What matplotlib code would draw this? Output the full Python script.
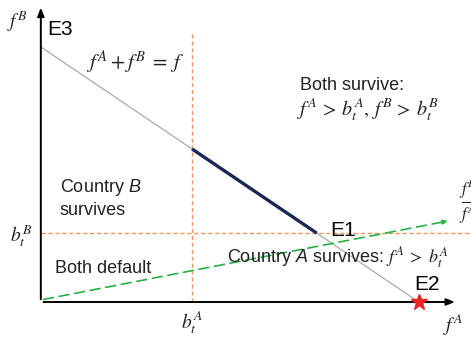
import numpy as np
import matplotlib.pyplot as plt

plt.rcParams['font.family'] = ['Liberation Sans', 'DejaVu Sans']
plt.rcParams['mathtext.fontset'] = 'custom'
plt.rcParams['mathtext.rm'] = 'STIXGeneral'
plt.rcParams['mathtext.it'] = 'STIXGeneral:italic'
plt.rcParams['mathtext.cal'] = 'Liberation Sans:italic'   # sans italic letters in labels

# model values (units of total funding f)
f_total = 1.0
b_A = 0.40
b_B = 0.27
ratio_start = [0.0, 0.008]
ratio_end = [1.085, 0.32]
feasible_A = [b_A, f_total - b_B]   # segment where both survive on the budget line
dash_top = 1.055

fig = plt.figure(figsize=(4.71, 3.39), dpi=100)
ax = fig.add_axes([0, 0, 1, 1])
ax.set_xlim(-0.108, 1.138)
ax.set_ylim(-0.145, 1.184)
ax.axis('off')

txt = '#222222'
orange = '#f2965a'
fs = 13

# axes arrows
ax.annotate('', xy=(1.103, 0), xytext=(0, 0),
            arrowprops=dict(arrowstyle='-|>,head_length=0.5,head_width=0.2', color='black', lw=1.4))
ax.annotate('', xy=(0, 1.165), xytext=(0, 0),
            arrowprops=dict(arrowstyle='-|>,head_length=0.5,head_width=0.2', color='black', lw=1.4))

# budget line
xs = np.array([0, f_total])
ax.plot(xs, f_total - xs, color='#aaaaaa', lw=0.9, zorder=2)
seg = np.array(feasible_A)
ax.plot(seg, f_total - seg, color='#1c2656', lw=2.4, solid_capstyle='butt', zorder=3)

# thresholds
ax.plot([b_A, b_A], [0, dash_top], color=orange, lw=1.0, ls=(0, (3, 2)), zorder=1)
ax.plot([0, 1.2], [b_B, b_B], color=orange, lw=1.0, ls=(0, (3, 2)), zorder=1)

# ratio line
ax.annotate('', xy=ratio_end, xytext=ratio_start,
            arrowprops=dict(arrowstyle='-|>,head_length=0.3,head_width=0.12', color='#2aae48',
                            lw=1.2, ls=(0, (6, 3.5))))

# equilibrium E2
ax.plot([f_total], [0], marker='*', color='#ee2222', markersize=12, zorder=5, clip_on=False)

ax.text(-0.061, 1.098, '$f^B$', fontsize=14, color=txt, ha='center', va='center')
ax.text(0.016, 1.067, 'E3', fontsize=15, color='black', ha='left', va='center')
ax.text(0.249, 0.941, '$f^A + f^B\\;=\\;f$', fontsize=15, color=txt, ha='center', va='center')
ax.text(0.685, 0.847, 'Both survive:', fontsize=fs, color=txt, ha='left', va='center')
ax.text(0.677, 0.753, '$f^A \\,>\\, b_t^A,\\, f^B \\,>\\, b_t^B$', fontsize=14.5, color=txt,
        ha='left', va='center')
ax.text(0.050, 0.447, 'Country $\\mathcal{B}$', fontsize=fs, color=txt, ha='left', va='center')
ax.text(0.050, 0.357, 'survives', fontsize=fs, color=txt, ha='left', va='center')
ax.text(-0.053, 0.259, '$b_t^B$', fontsize=14, color=txt, ha='center', va='center')
ax.text(0.037, 0.133, 'Both default', fontsize=fs, color=txt, ha='left', va='center')
ax.text(0.765, 0.282, 'E1', fontsize=15, color='black', ha='left', va='center')
ax.text(0.492, 0.173, 'Country $\\mathcal{A}$ survives: $f^A \\;>\\; b_t^A$', fontsize=fs, color=txt,
        ha='left', va='center')
ax.text(0.989, 0.067, 'E2', fontsize=15, color='black', ha='left', va='center')
ax.text(b_A, -0.082, '$b_t^A$', fontsize=14, color=txt, ha='center', va='center')
ax.text(1.090, -0.090, '$f^A$', fontsize=14, color=txt, ha='center', va='center')
ax.text(1.106, 0.392, '$\\frac{f^B}{f^A}$', fontsize=17, color=txt, ha='left', va='center')

fig.savefig('out.png', dpi=100)
